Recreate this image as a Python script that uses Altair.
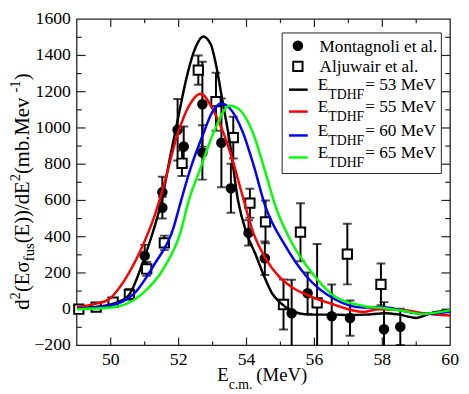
import altair as alt
import pandas as pd

# ---------------- data ----------------
mont_x = [51.00, 51.52, 51.52, 51.97, 52.15, 52.70, 52.70, 53.26, 53.54, 54.06, 54.54, 55.33, 55.80, 56.51, 57.05, 58.05, 58.53]
mont_y = [295, 646, 560, 990, 898, 1131, 865, 918, 667, 421, 281, -22, 88, -39, -49, -111, -97]
mont_err = [60, 85, 60, 170, 110, 234, 150, 245, 135, 70, 92, 185, 115, 175, 97, 150, 100]

alj_x = [49.06, 49.57, 50.07, 50.55, 51.06, 51.58, 52.10, 52.58, 53.10, 53.61, 54.10, 54.56, 55.09, 55.59, 56.08, 56.97, 57.96]
alj_y = [0, 12, 39, 82, 222, 366, 805, 1319, 1145, 947, 585, 482, 26, 425, 35, 304, 137]
alj_err = [8, 8, 10, 30, 38, 40, 70, 81, 160, 115, 80, 118, 138, 160, 325, 167, 115]

e53_x = [49.0, 49.5, 50.0, 50.5, 51.0, 51.25, 51.5, 51.75, 52.0, 52.25, 52.5, 52.72, 52.95, 53.1, 53.3, 53.5, 53.75, 54.0, 54.25, 54.5, 54.75, 55.0, 55.3, 55.6, 56.0, 56.5, 57.0, 57.5, 58.1, 58.5, 59.0, 59.5, 60.0]
e53_y = [5, 12, 26, 70, 289, 430, 600, 840, 1070, 1290, 1445, 1505, 1460, 1350, 1140, 930, 600, 420, 310, 190, 88, 35, -5, -25, -30, -30, -32, -30, -22, -30, -48, -18, -5]

e55_x = [49.0, 49.5, 49.93, 50.4, 50.9, 51.28, 51.5, 51.97, 52.3, 52.65, 53.0, 53.5, 53.9, 54.17, 54.56, 54.94, 55.33, 55.9, 56.5, 57.0, 57.45, 57.9, 58.6, 59.2, 60.0]
e55_y = [12, 28, 53, 158, 333, 509, 640, 965, 1120, 1189, 1105, 877, 614, 438, 281, 184, 123, 70, 30, 0, -15, 0, -4, -22, -35]

e60_x = [49.0, 49.5, 50.0, 50.7, 51.28, 51.86, 52.0, 52.34, 52.72, 53.0, 53.25, 53.5, 53.88, 54.2, 54.55, 55.14, 55.75, 56.6, 57.45, 58.13, 58.6, 59.19, 60.0]
e60_y = [4, 10, 21, 88, 246, 456, 550, 770, 965, 1090, 1135, 1110, 982, 800, 570, 351, 185, 55, 9, 9, -9, -26, -14]

e65_x = [49.0, 50.02, 50.89, 51.57, 52.05, 52.3, 52.63, 53.01, 53.5, 53.8, 54.17, 54.56, 54.85, 55.33, 55.91, 56.6, 57.45, 58.13, 58.6, 59.19, 60.0]
e65_y = [0, 9, 79, 228, 421, 600, 770, 965, 1123, 1100, 982, 754, 570, 368, 205, 70, 18, 4, -9, -26, -5]

x_major = [50, 52, 54, 56, 58]
x_minor = [51, 53, 55, 57, 59]
y_major = [0, 200, 400, 600, 800, 1000, 1200, 1400]
y_minor = [-100, 100, 300, 500, 700, 900, 1100, 1300, 1500]
x_labels = [50, 52, 54, 56, 58, 60]
y_labels = [-200, 0, 200, 400, 600, 800, 1000, 1200, 1400, 1600]

series = [("E53", e53_x, e53_y, "#000000", "53"),
          ("E55", e55_x, e55_y, "#ff0000", "55"),
          ("E60", e60_x, e60_y, "#0000ff", "60"),
          ("E65", e65_x, e65_y, "#00ff00", "65")]

# ---------------- layout ----------------
FONT = "Liberation Serif"
W, H = 380, 332
PAD_L, PAD_T, PAD_R, PAD_B = 70, 8, 11, 46


def cx(px):
    return px - 8 - PAD_L


def cy(py):
    return py - 8 - PAD_T


TW = {' ': 250, '(': 333, ')': 333, '.': 250, '/': 278, '-': 333, '=': 564,
      'E': 611, 'M': 889, 'V': 722, 'T': 611, 'D': 722, 'H': 722, 'F': 556, 'A': 722,
      'a': 444, 'b': 500, 'c': 444, 'd': 500, 'e': 444, 'f': 333, 'g': 500, 'i': 278,
      'j': 278, 'l': 278, 'm': 778, 'n': 500, 'o': 500, 'r': 333, 's': 389, 't': 278,
      'u': 500, 'v': 500, 'w': 722, 'σ': 550}


def tw(s, size):
    return sum(TW.get(c, 500) for c in s) * size / 1000.0


one = pd.DataFrame({"a": [0]})


def txt(s, x, y, size, angle=0):
    return alt.Chart(one).mark_text(
        text=s, font=FONT, fontSize=size, align="left", baseline="alphabetic",
        angle=angle, color="black"
    ).encode(x=alt.value(x), y=alt.value(y))


xs = alt.Scale(domain=[49, 60], nice=False, zero=False)
ys = alt.Scale(domain=[-200, 1600], nice=False, zero=False)


def X(f):
    return alt.X(f, scale=xs, axis=None)


def Y(f):
    return alt.Y(f, scale=ys, axis=None)


layers = []

# frame
layers.append(alt.Chart(one).mark_rect(fillOpacity=0, stroke="#222222", strokeWidth=1.3).encode(
    x=alt.value(0), x2=alt.value(W), y=alt.value(0), y2=alt.value(H)))

# tick labels
layers.append(alt.Chart(pd.DataFrame({"v": x_labels})).mark_text(
    font=FONT, fontSize=18, align="center", baseline="top", color="black").encode(
    x=X("v:Q"), y=alt.value(H + 6), text=alt.Text("v:Q", format="d")))
layers.append(alt.Chart(pd.DataFrame({"v": y_labels})).mark_text(
    font=FONT, fontSize=18, align="right", baseline="middle", color="black").encode(
    y=Y("v:Q"), x=alt.value(-6), text=alt.Text("v:Q", format="d")))


# inward ticks on all four sides
def xticks(vals, length):
    d = pd.DataFrame({"v": vals})
    bot = alt.Chart(d).mark_rule(color="#222222", strokeWidth=1.2).encode(
        x=X("v:Q"), y=alt.value(H), y2=alt.value(H - length))
    top = alt.Chart(d).mark_rule(color="#222222", strokeWidth=1.2).encode(
        x=X("v:Q"), y=alt.value(0), y2=alt.value(length))
    return [bot, top]


def yticks(vals, length):
    d = pd.DataFrame({"v": vals})
    left = alt.Chart(d).mark_rule(color="#222222", strokeWidth=1.2).encode(
        y=Y("v:Q"), x=alt.value(0), x2=alt.value(length))
    right = alt.Chart(d).mark_rule(color="#222222", strokeWidth=1.2).encode(
        y=Y("v:Q"), x=alt.value(W), x2=alt.value(W - length))
    return [left, right]


layers += xticks(x_major, 8) + xticks(x_minor, 4) + yticks(y_major, 9) + yticks(y_minor, 5)

# experimental data
mont = pd.DataFrame({"x": mont_x, "y": mont_y, "lo": [a - b for a, b in zip(mont_y, mont_err)],
                     "hi": [a + b for a, b in zip(mont_y, mont_err)]})
alj = pd.DataFrame({"x": alj_x, "y": alj_y, "lo": [a - b for a, b in zip(alj_y, alj_err)],
                    "hi": [a + b for a, b in zip(alj_y, alj_err)]})

for d in (mont, alj):
    layers.append(alt.Chart(d).mark_rule(color="black", strokeWidth=2, clip=True).encode(
        x=X("x:Q"), y=Y("lo:Q"), y2="hi:Q"))
    for f in ("lo", "hi"):
        layers.append(alt.Chart(d).mark_tick(color="black", orient="horizontal", size=9, thickness=2, clip=True).encode(
            x=X("x:Q"), y=Y(f + ":Q")))

layers.append(alt.Chart(alj).mark_point(shape="square", size=90, filled=True, fill="white",
                                        stroke="black", strokeWidth=2, opacity=1).encode(
    x=X("x:Q"), y=Y("y:Q")))
layers.append(alt.Chart(mont).mark_point(shape="circle", size=115, filled=True, color="black", opacity=1).encode(
    x=X("x:Q"), y=Y("y:Q")))

# TDHF curves
for name, sx, sy, col, lab in series:
    d = pd.DataFrame({"x": sx, "y": sy})
    layers.append(alt.Chart(d).mark_line(color=col, strokeWidth=2.5, interpolate="monotone", clip=True).encode(
        x=X("x:Q"), y=Y("y:Q")))

# legend box
layers.append(alt.Chart(one).mark_rect(fill="white", stroke="#222222", strokeWidth=1).encode(
    x=alt.value(cx(287)), x2=alt.value(cx(449)), y=alt.value(cy(30)), y2=alt.value(cy(173))))
layers.append(alt.Chart(one).mark_point(shape="circle", size=115, filled=True, color="black", opacity=1).encode(
    x=alt.value(cx(303)), y=alt.value(cy(43))))
layers.append(alt.Chart(one).mark_point(shape="square", size=90, filled=True, fill="white",
                                        stroke="black", strokeWidth=2, opacity=1).encode(
    x=alt.value(cx(303)), y=alt.value(cy(64))))
LFS, LSS = 17.5, 14
layers.append(txt("Montagnoli et al.", cx(325), cy(49), LFS))
layers.append(txt("Aljuwair et al.", cx(325), cy(70), LFS))
line_rows = [87.7, 110, 134.3, 156.7]
for (name, sx, sy, col, lab), ly in zip(series, line_rows):
    layers.append(alt.Chart(one).mark_rule(color=col, strokeWidth=2.5).encode(
        x=alt.value(cx(294)), x2=alt.value(cx(313)), y=alt.value(cy(ly))))
    x0 = cx(323.3)
    layers.append(txt("E", x0, cy(ly + 0.5), LFS))
    x1 = x0 + tw("E", LFS)
    layers.append(txt("TDHF", x1, cy(ly + 9.5), LSS))
    x2 = x1 + tw("TDHF", LSS) + 1
    layers.append(txt("= " + lab + " MeV", x2, cy(ly + 0.5), LFS))

# x title: E_c.m. (MeV)
XF, XS = 19, 14
xb = cy(384.3)
x0 = cx(221)
layers.append(txt("E", x0, xb, XF))
x1 = x0 + tw("E", XF)
layers.append(txt("c.m.", x1, xb + 8.5, XS))
x2 = x1 + tw("c.m.", XS) + 4
layers.append(txt(" (MeV)", x2, xb, XF))

# y title: d^2(E sigma_fus(E))/dE^2 (mb.Mev^-1), rotated
YF, YS = 21, 15
base_x = cx(29)
pieces = [("d", YF, 0), ("2", YS, -9), ("(Eσ", YF, 0), ("fus", YS, 5), ("(E))/dE", YF, 0),
          ("2", YS, -9), (" (mb.Mev", YF, 0), ("-1", YS, -9), (" )", YF, 0)]
pos = cy(311.7)
for s, size, shift in pieces:
    layers.append(txt(s, base_x + shift, pos, size, angle=270))
    pos -= tw(s, size)

chart = alt.layer(*layers).properties(
    width=W, height=H,
    padding={"left": PAD_L, "top": PAD_T, "right": PAD_R, "bottom": PAD_B},
    autosize=alt.AutoSizeParams(type="none"),
).configure_view(strokeWidth=0)

chart.save("out.html", embed_options={"renderer": "svg", "actions": False})
